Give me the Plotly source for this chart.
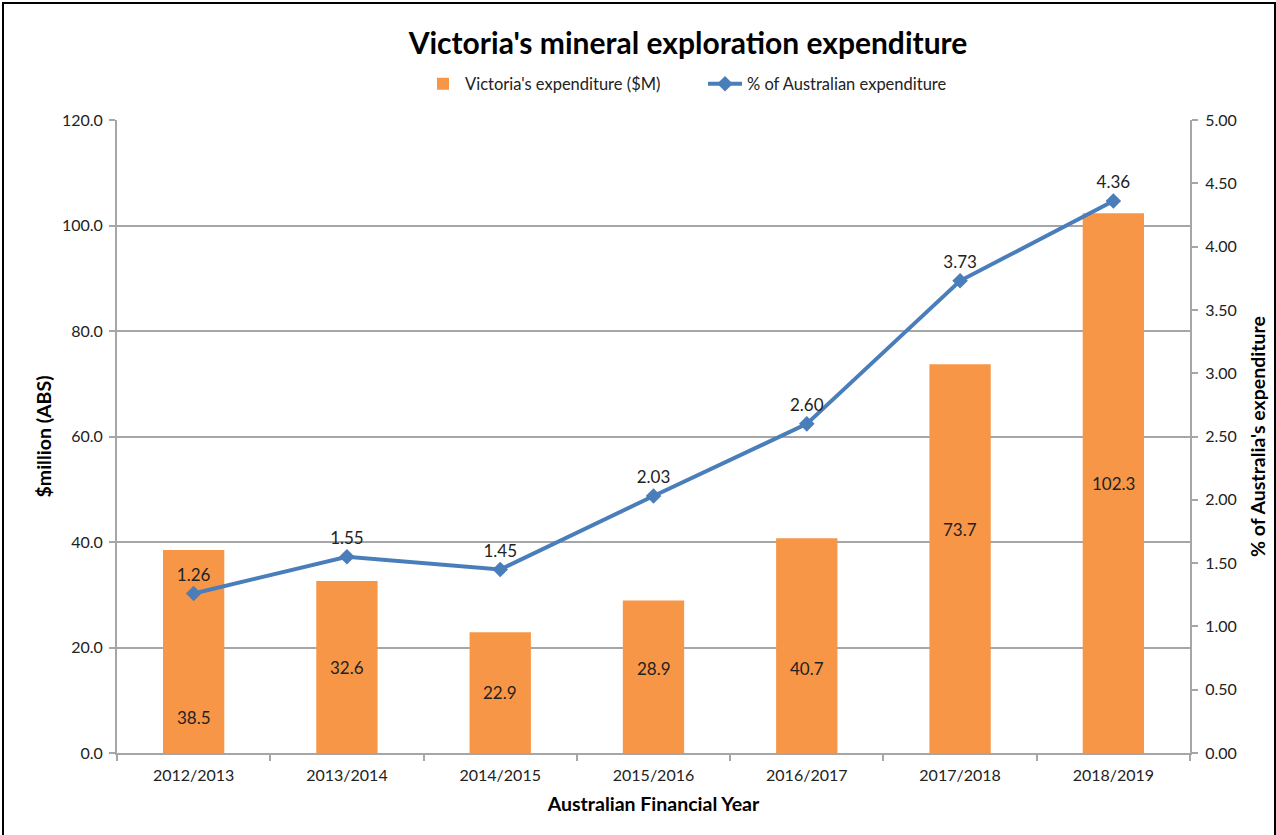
import plotly.graph_objects as go

years = ['2012/2013', '2013/2014', '2014/2015', '2015/2016', '2016/2017', '2017/2018', '2018/2019']
vic_spend = [38.5, 32.6, 22.9, 28.9, 40.7, 73.7, 102.3]
aus_share = [1.26, 1.55, 1.45, 2.03, 2.60, 3.73, 4.36]
# where the bar value labels sit (in $M units), as placed in the original
bar_label_y = [6.8, 16.3, 11.45, 16.1, 16.1, 42.3, 51.15]

W, H = 1276, 835
L, R, T, B = 117, 86, 120, 82
pw, ph = W - L - R, H - T - B

FONT = "Lato"
GRID = "#a6a6a6"
ORANGE = "#f79646"
BLUE = "#4a7ebb"


def px_x(p):
    return (p - L) / pw


def px_y(p):
    return (H - B - p) / ph


fig = go.Figure()

fig.add_trace(go.Bar(
    x=years, y=vic_spend,
    name="Victoria's expenditure ($M)",
    marker=dict(color=ORANGE, line=dict(width=0)),
    width=0.4,
))

fig.add_trace(go.Scatter(
    x=years, y=aus_share,
    name='% of Australian expenditure',
    mode='lines+markers+text',
    yaxis='y2',
    line=dict(color=BLUE, width=4),
    marker=dict(symbol='diamond', size=12, color=BLUE),
    text=[f'{v:.2f}' for v in aus_share],
    textposition='top center',
    textfont=dict(family=FONT, size=17, color='#222'),
))

# the bar labels, positioned the way the source chart had them
for yr, v, ly in zip(years, vic_spend, bar_label_y):
    fig.add_annotation(x=yr, y=ly, xref='x', yref='y', text=f'{v:.1f}',
                       showarrow=False, font=dict(family=FONT, size=17, color='#222'))

# outer chart border
fig.add_shape(type='rect', xref='paper', yref='paper',
              x0=px_x(3), x1=px_x(1275), y0=px_y(860), y1=px_y(3),
              line=dict(color='black', width=2), fillcolor='rgba(0,0,0,0)', layer='below')

fig.update_layout(
    width=W, height=H,
    margin=dict(l=L, r=R, t=T, b=B, autoexpand=False),
    paper_bgcolor='white', plot_bgcolor='white',
    font=dict(family=FONT, size=16, color='#222'),
    title=dict(text="<b>Victoria's mineral exploration expenditure</b>",
               x=688 / W, xanchor='center',
               y=1 - 43 / H, yanchor='middle',
               font=dict(family=FONT, size=30, color='black')),
    legend=dict(orientation='h', x=px_x(703), xanchor='center',
                y=px_y(84), yanchor='middle',
                font=dict(family=FONT, size=16.5, color='#222'),
                traceorder='normal', itemwidth=34,
                entrywidth=233, entrywidthmode='pixels'),
    showlegend=True,
    xaxis=dict(
        title=dict(text='<b>Australian Financial Year</b>', font=dict(family=FONT, size=19.5, color='black'),
                   standoff=14),
        showline=True, linecolor=GRID, linewidth=2,
        ticks='outside', tickson='boundaries', ticklen=6, tickcolor=GRID, tickwidth=2,
        showgrid=False, tickfont=dict(size=16), ticklabelstandoff=7,
    ),
    yaxis=dict(
        title=dict(text='<b>$million (ABS)</b>', font=dict(family=FONT, size=19.5, color='black'),
                   standoff=5),
        range=[0, 120], dtick=20, tickformat='.1f',
        showline=True, linecolor=GRID, linewidth=2,
        ticks='outside', ticklen=6, tickcolor=GRID, tickwidth=2,
        showgrid=True, gridcolor=GRID, gridwidth=1.5, zeroline=False,
        tickfont=dict(size=16), ticklabelstandoff=3,
    ),
    yaxis2=dict(
        title=dict(text="<b>% of Australia's expenditure</b>", font=dict(family=FONT, size=19.5, color='black'),
                   standoff=16),
        overlaying='y', side='right',
        range=[0, 5], dtick=0.5, tickformat='.2f',
        showline=True, linecolor=GRID, linewidth=2,
        ticks='outside', ticklen=6, tickcolor=GRID, tickwidth=2,
        showgrid=False, zeroline=False,
        tickfont=dict(size=16), ticklabelstandoff=4,
    ),
)

fig.write_html("out.html", config={'displayModeBar': False},
               post_script="document.body.style.margin='0';")
